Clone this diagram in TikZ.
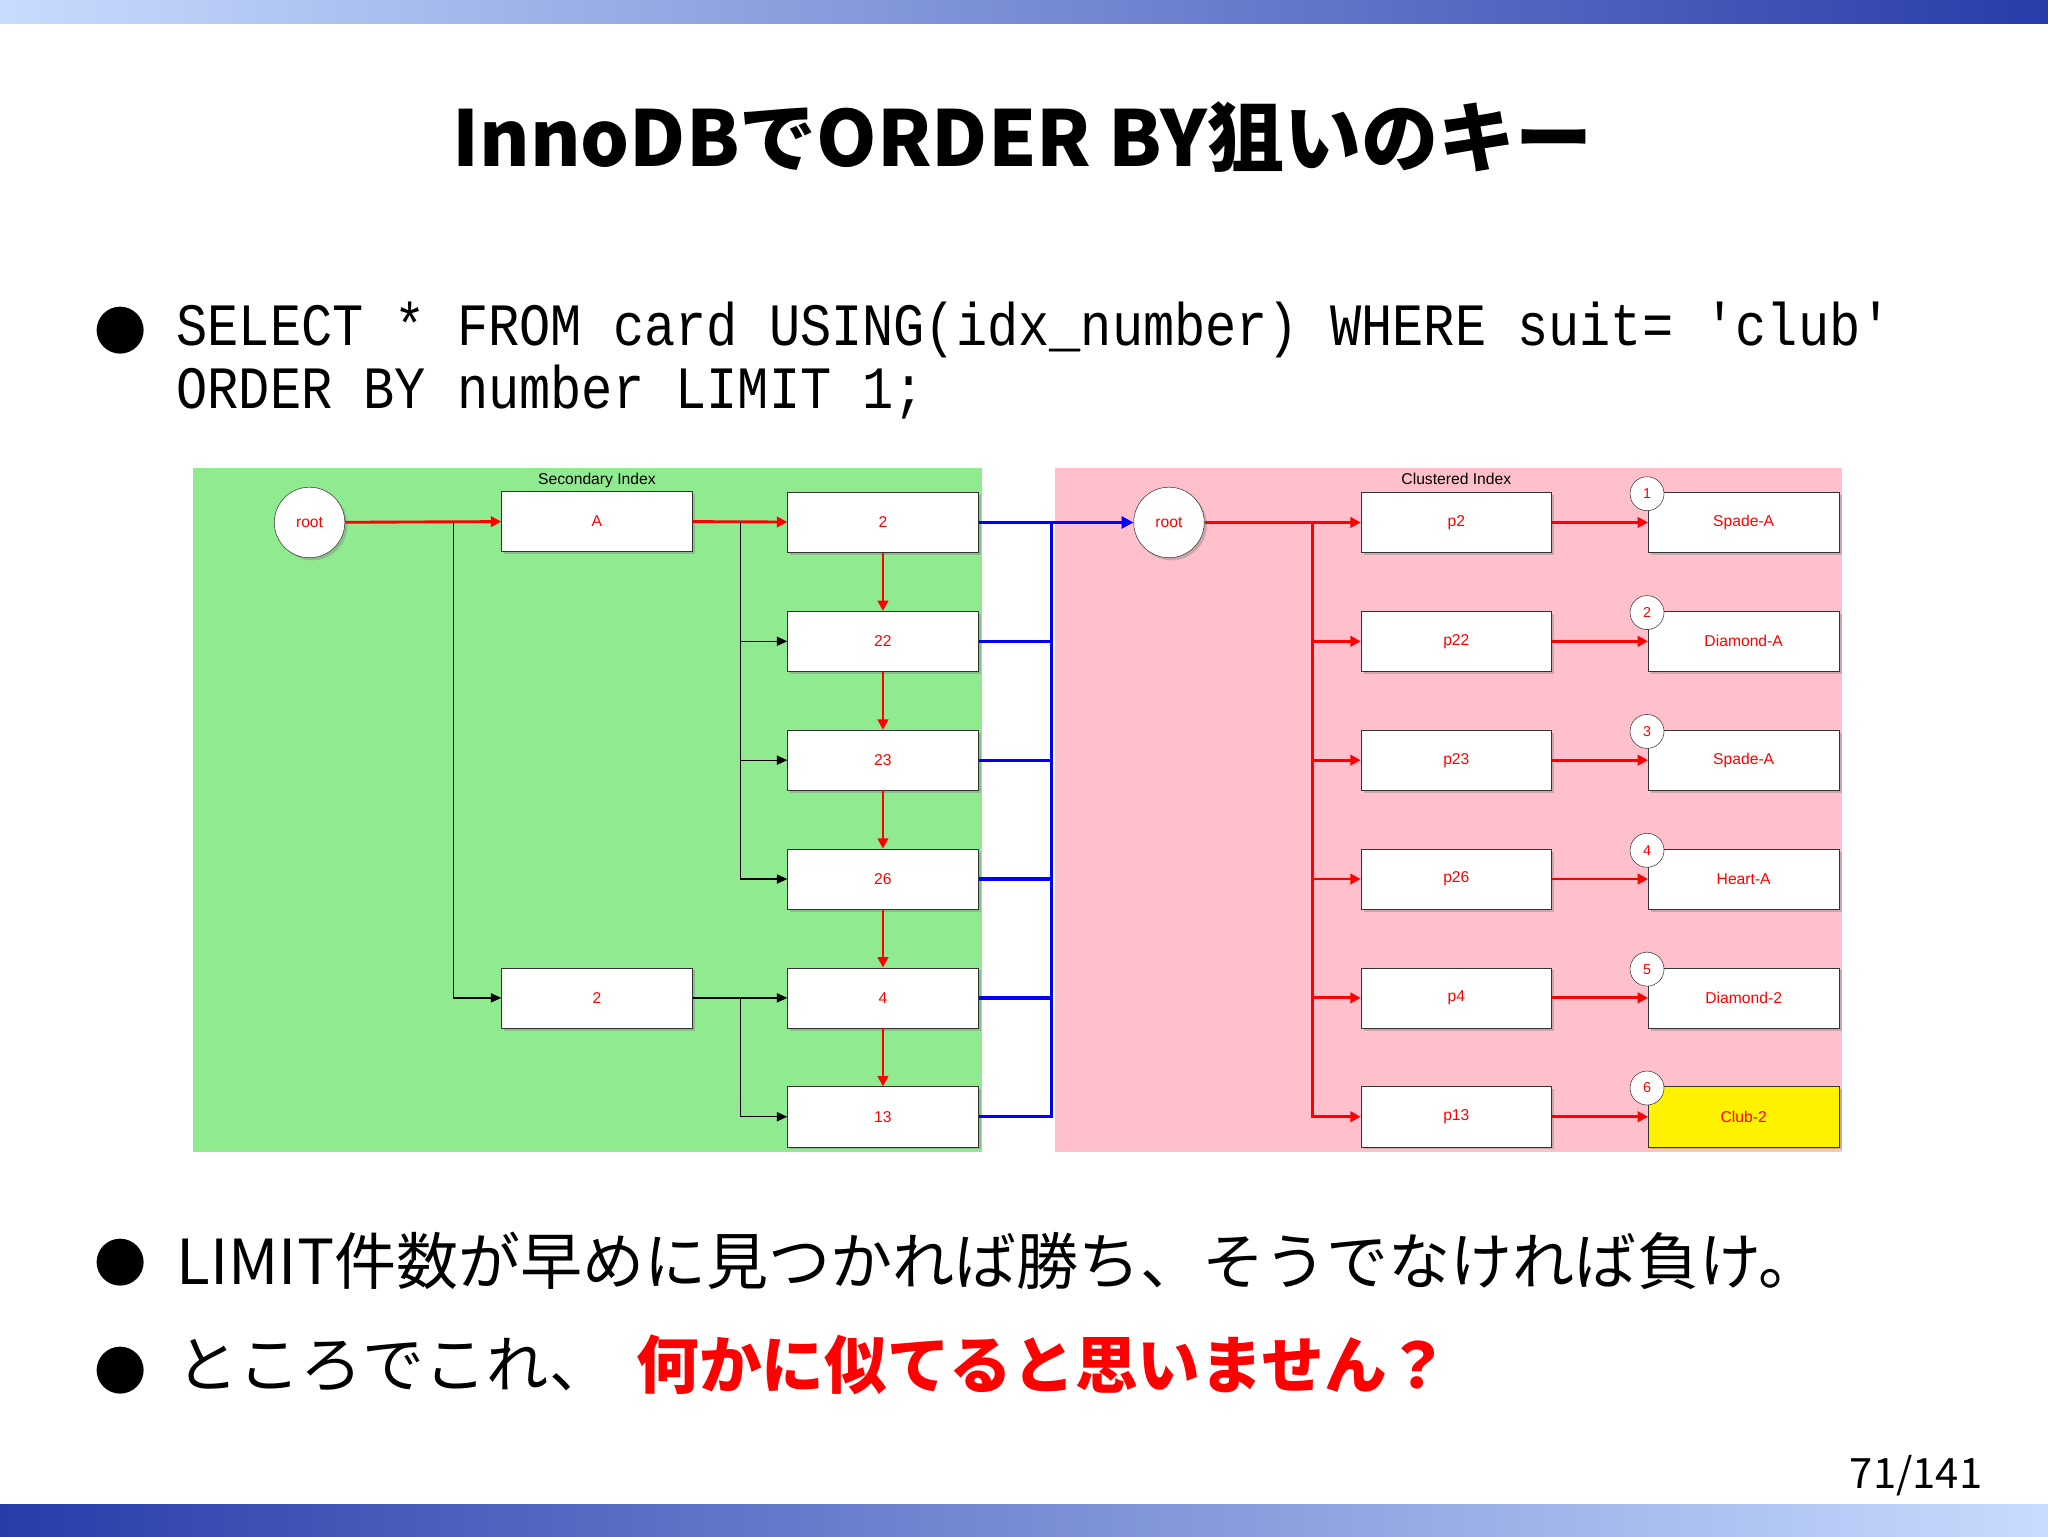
\documentclass[tikz,border=0pt]{standalone}
\usepackage{fontspec}
\setmainfont{Liberation Sans}
\newfontfamily\cjk{Noto Sans CJK JP}
\newfontfamily\monof{Liberation Mono}
\usetikzlibrary{shadows,arrows.meta}
\definecolor{gfill}{RGB}{144,234,144}
\definecolor{pfill}{RGB}{255,192,203}
\definecolor{dblue}{RGB}{40,60,170}
\definecolor{lblue}{RGB}{200,220,255}
\tikzset{
 bx/.style={draw=black!80,fill=white,minimum width=146pt,minimum height=46pt,inner sep=0,font=\fontsize{12}{12}\selectfont,text=red,drop shadow={shadow xshift=2pt,shadow yshift=-2pt,opacity=0.4}},
 rt/.style={draw=black!80,fill=white,circle,minimum size=54pt,inner sep=0,font=\fontsize{12}{12}\selectfont,text=red,drop shadow={shadow xshift=2pt,shadow yshift=-2pt,opacity=0.4}},
 num/.style={draw=black!80,fill=white,circle,minimum size=26pt,inner sep=0,font=\fontsize{11}{11}\selectfont,text=red},
 ra/.style={draw=red,line width=2.2pt,-{Triangle[length=8pt,width=8pt]}},
 ka/.style={draw=black,line width=1pt,-{Triangle[length=8pt,width=7pt]}},
 ba/.style={draw=blue,line width=2.5pt},
 sq/.style={anchor=west,inner sep=0,xscale=0.865,transform shape,font=\monof\fontsize{46}{46}\selectfont},
}
\begin{document}
\begin{tikzpicture}[x=1pt,y=-1pt]
\useasboundingbox (0,0) rectangle (1568,1176);
\fill[white] (0,0) rectangle (1568,1176);
\shade[left color=lblue,right color=dblue] (0,0) rectangle (1568,18);
\shade[left color=dblue,right color=lblue] (0,1152) rectangle (1568,1176);
\node (title) at (783,105) {\cjk\bfseries\fontsize{59}{59}\selectfont InnoDBでORDER BY狙いのキー};
\node (b1) at (92,253) {\cjk\fontsize{40}{40}\selectfont ●};
\node[sq] (s1) at (135,253) {SELECT * FROM card USING(idx\_number) WHERE suit= 'club'};
\node[sq] (s2) at (135,300) {ORDER BY number LIMIT 1;};
\fill[gfill] (148,358) rectangle (752,882);
\fill[pfill] (808,358) rectangle (1410,882);
\node (si) at (457,368) {\fontsize{12}{12}\selectfont Secondary Index};
\node (ci) at (1115,367) {\fontsize{12}{12}\selectfont Clustered Index};
\node[rt] (r1) at (237,400) {root};
\node[rt] (r2) at (895,400) {root};
\node[bx] (A) at (457,399) {A};
\node[bx] (B2) at (457,764) {2};
\foreach \t/\y in {2/400,22/491,23/582,26/673,4/764,13/855}{
 \node[bx] (c\t) at (676,\y) {\t};
 \node[bx] (p\t) at (1115,\y) {p\t};
}
\foreach \t/\y/\n/\c in {2/400/1/Spade-A,22/491/2/Diamond-A,23/582/3/Spade-A,26/673/4/Heart-A,4/764/5/Diamond-2}{
 \node[bx] (d\t) at (1335,\y) {\c};
 \node[num] (n\n) at (1261,\y-22) {\n};
}
\node[bx,fill=yellow] (d13) at (1335,855) {Club-2};
\node[num] (n6) at (1261,833) {6};
% left arrows
\draw[ra] (r1) -- (A);
\draw[ra] (A) -- (c2);
\draw[ka] (347,400) |- (B2);
\foreach \t in {22,23,26}{\draw[ka] (567,400) |- (c\t);}
\draw[ka] (B2) -- (c4);
\draw[ka] (567,764) |- (c13);
\draw[ra] (c2) -- (c22);
\draw[ra] (c22) -- (c23);
\draw[ra] (c23) -- (c26);
\draw[ra] (c26) -- (c4);
\draw[ra] (c4) -- (c13);
\coordinate (bj) at (805,400);
\draw[ba] (c2.east) -- (bj);
\foreach \t in {22,23,26,4,13}{\draw[ba] (c\t.east) -| (bj);}
\draw[ba,-{Triangle[length=9pt,width=9pt]}] (bj) -- (r2);
% right
\draw[ra] (r2) -- (p2);
\foreach \t in {22,23,26,4,13}{\draw[ra] (1005,400) |- (p\t);}
\foreach \t in {2,22,23,26,4,13}{\draw[ra] (p\t) -- (d\t);}
\node (b2) at (92,967) {\cjk\fontsize{40}{40}\selectfont ●};
\node[anchor=west,inner sep=0] (t1) at (135,965) {\cjk\fontsize{47.5}{47.5}\selectfont LIMIT件数が早めに見つかれば勝ち、そうでなければ負け。};
\node (b3) at (92,1049) {\cjk\fontsize{40}{40}\selectfont ●};
\node[anchor=west,inner sep=0] (t2) at (135,1045) {\cjk\fontsize{47.5}{47.5}\selectfont ところでこれ、};
\node[anchor=west,inner sep=0] (t3) at (487,1045) {\cjk\bfseries\fontsize{48}{48}\selectfont\color{red}何かに似てると思いません？};
\node (pg) at (1467,1130) {\cjk\fontsize{32}{32}\selectfont 71/141};
\end{tikzpicture}
\end{document}
